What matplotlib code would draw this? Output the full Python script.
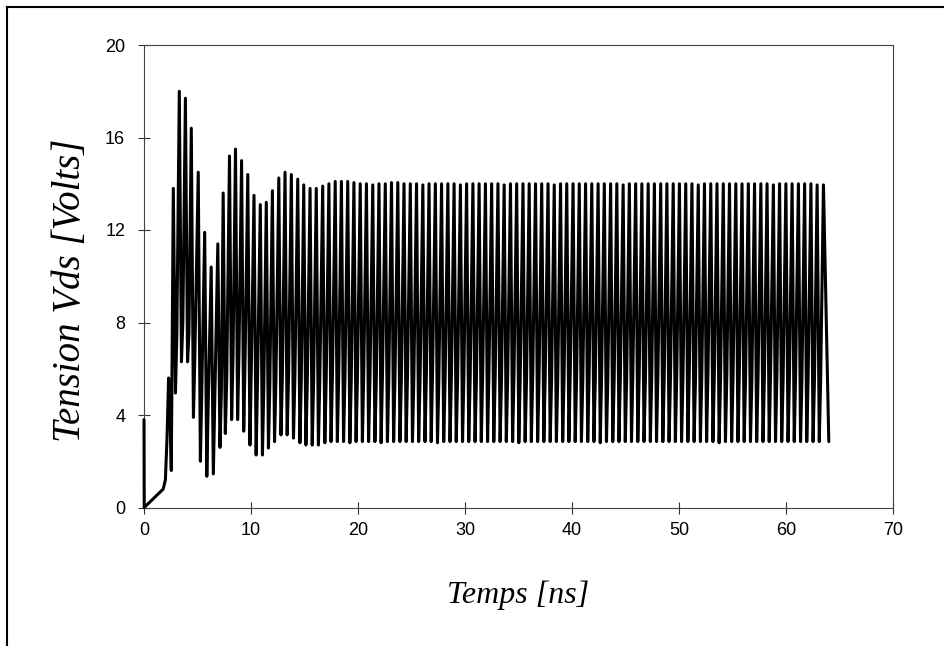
import numpy as np
import matplotlib
matplotlib.use("Agg")
import matplotlib.pyplot as plt
from matplotlib.lines import Line2D

# ---------------- data ----------------
# start-up segment (time in ns, voltage in V)
start_t = [0.00, 0.00, 0.02, 1.80, 2.00, 2.15, 2.30, 2.42, 2.55]
start_v = [3.80, 3.80, 0.00, 0.80, 1.20, 3.00, 5.60, 4.20, 1.60]

# oscillation maxima
peak_t = [2.74, 3.30, 3.87, 4.42, 5.07, 5.67, 6.28, 6.90, 7.40, 7.99,
          8.55, 9.12, 9.70, 10.28, 10.87, 11.43, 12.00, 12.60, 13.18, 13.77,
          14.37, 14.93, 15.52, 16.10, 16.70, 17.28, 17.87, 18.45, 19.04, 19.62,
          20.21, 20.79, 21.38, 21.96, 22.55, 23.13, 23.72, 24.30, 24.89, 25.47,
          26.06, 26.64, 27.23, 27.81, 28.40, 28.98, 29.57, 30.15, 30.74, 31.32,
          31.91, 32.49, 33.08, 33.66, 34.25, 34.83, 35.42, 36.00, 36.59, 37.17,
          37.76, 38.34, 38.93, 39.51, 40.10, 40.68, 41.27, 41.85, 42.44, 43.02,
          43.61, 44.19, 44.78, 45.36, 45.95, 46.53, 47.12, 47.70, 48.29, 48.87,
          49.46, 50.04, 50.63, 51.21, 51.80, 52.38, 52.97, 53.55, 54.14, 54.72,
          55.31, 55.89, 56.48, 57.06, 57.65, 58.23, 58.82, 59.40, 59.99, 60.57,
          61.16, 61.74, 62.33, 62.91, 63.50]
peak_v = [13.8, 18.0, 17.7, 16.4, 14.5, 11.9, 10.4, 11.4, 13.6, 15.2,
          15.5, 15.0, 14.4, 13.5, 13.1, 13.2, 13.7, 14.25, 14.5, 14.4,
          14.2, 13.95, 13.8, 13.8, 13.9, 14.0, 14.1, 14.1, 14.1, 14.05,
          14.0, 14.0, 13.95, 14.0, 14.0, 14.05, 14.05, 14.0, 14.0, 14.0,
          13.95, 14.0, 14.0, 14.0, 14.0, 14.0, 13.95, 14.0, 14.0, 14.0,
          14.0, 14.0, 14.0, 13.95, 14.0, 14.0, 14.0, 14.0, 14.0, 14.0,
          14.0, 13.95, 14.0, 14.0, 14.0, 14.0, 14.0, 14.0, 14.0, 14.0,
          14.0, 14.0, 13.95, 14.0, 14.0, 14.0, 14.0, 14.0, 14.0, 14.0,
          14.0, 14.0, 14.0, 14.0, 13.95, 14.0, 14.0, 14.0, 14.0, 14.0,
          14.0, 14.0, 14.0, 14.0, 14.0, 14.0, 13.95, 14.0, 14.0, 14.0,
          14.0, 14.0, 14.0, 13.95, 13.95]

# oscillation minima (one after each maximum)
trough_t = [2.94, 3.50, 4.07, 4.62, 5.27, 5.87, 6.48, 7.10, 7.60, 8.19,
            8.75, 9.32, 9.90, 10.48, 11.07, 11.63, 12.20, 12.80, 13.38, 13.97,
            14.57, 15.13, 15.72, 16.30, 16.90, 17.48, 18.07, 18.65, 19.24, 19.82,
            20.41, 20.99, 21.58, 22.16, 22.75, 23.33, 23.92, 24.50, 25.09, 25.67,
            26.26, 26.84, 27.43, 28.01, 28.60, 29.18, 29.77, 30.35, 30.94, 31.52,
            32.11, 32.69, 33.28, 33.86, 34.45, 35.03, 35.62, 36.20, 36.79, 37.37,
            37.96, 38.54, 39.13, 39.71, 40.30, 40.88, 41.47, 42.05, 42.64, 43.22,
            43.81, 44.39, 44.98, 45.56, 46.15, 46.73, 47.32, 47.90, 48.49, 49.07,
            49.66, 50.24, 50.83, 51.41, 52.00, 52.58, 53.17, 53.75, 54.34, 54.92,
            55.51, 56.09, 56.68, 57.26, 57.85, 58.43, 59.02, 59.60, 60.19, 60.77,
            61.36, 61.94, 62.53, 63.11, 64.00]
trough_v = [4.95, 6.3, 6.3, 3.9, 2.0, 1.35, 1.45, 2.6, 3.2, 3.8,
            3.8, 3.3, 2.7, 2.27, 2.27, 2.57, 2.85, 3.14, 3.14, 3.0,
            2.8, 2.7, 2.7, 2.7, 2.8, 2.85, 2.85, 2.85, 2.8, 2.85,
            2.85, 2.85, 2.85, 2.8, 2.85, 2.85, 2.85, 2.85, 2.85, 2.85,
            2.85, 2.85, 2.8, 2.85, 2.85, 2.85, 2.85, 2.85, 2.85, 2.85,
            2.85, 2.85, 2.85, 2.85, 2.85, 2.8, 2.85, 2.85, 2.85, 2.85,
            2.85, 2.85, 2.85, 2.85, 2.85, 2.85, 2.85, 2.85, 2.8, 2.85,
            2.85, 2.85, 2.85, 2.85, 2.85, 2.85, 2.85, 2.85, 2.85, 2.85,
            2.85, 2.85, 2.85, 2.85, 2.85, 2.85, 2.85, 2.8, 2.85, 2.85,
            2.85, 2.85, 2.85, 2.85, 2.85, 2.85, 2.85, 2.85, 2.85, 2.85,
            2.85, 2.85, 2.85, 2.85, 2.85]

# small rebound after each minimum (the grey band near 5-6 V)
rebound_t = [3.07, 3.63, 4.20, 4.75, 5.40, 6.00, 6.61, 7.23, 7.73, 8.32,
             8.88, 9.45, 10.03, 10.61, 11.20, 11.76, 12.33, 12.93, 13.51, 14.10,
             14.70, 15.26, 15.85, 16.43, 17.03, 17.61, 18.20, 18.78, 19.37, 19.95,
             20.54, 21.12, 21.71, 22.29, 22.88, 23.46, 24.05, 24.63, 25.22, 25.80,
             26.39, 26.97, 27.56, 28.14, 28.73, 29.31, 29.90, 30.48, 31.07, 31.65,
             32.24, 32.82, 33.41, 33.99, 34.58, 35.16, 35.75, 36.33, 36.92, 37.50,
             38.09, 38.67, 39.26, 39.84, 40.43, 41.01, 41.60, 42.18, 42.77, 43.35,
             43.94, 44.52, 45.11, 45.69, 46.28, 46.86, 47.45, 48.03, 48.62, 49.20,
             49.79, 50.37, 50.96, 51.54, 52.13, 52.71, 53.30, 53.88, 54.47, 55.05,
             55.64, 56.22, 56.81, 57.39, 57.98, 58.56, 59.15, 59.73, 60.32, 60.90,
             61.49, 62.07, 62.66, 63.24]
rebound_v = [7.5, 8.0, 7.5, 6.5, 5.0, 4.5, 4.5, 5.0, 5.5, 6.5,
             6.8, 6.5, 6.0, 5.5, 5.3, 5.3, 5.5, 5.6, 5.7, 5.6,
             5.5, 5.4, 5.4, 5.5, 5.6, 5.7, 5.8, 5.6, 5.5, 5.7,
             5.9, 5.6, 5.5, 5.8, 5.6, 5.7, 5.5, 5.8, 5.6, 5.5,
             5.7, 5.9, 5.6, 5.5, 5.7, 5.6, 5.8, 5.5, 5.6, 5.7,
             5.9, 5.6, 5.5, 5.7, 5.8, 5.6, 5.5, 5.7, 5.6, 5.8,
             5.5, 5.6, 5.7, 5.9, 5.6, 5.5, 5.7, 5.6, 5.8, 5.6,
             5.5, 5.7, 5.6, 5.9, 5.7, 5.5, 5.6, 5.8, 5.6, 5.5,
             5.7, 5.6, 5.8, 5.5, 5.7, 5.9, 5.6, 5.5, 5.7, 5.6,
             5.8, 5.6, 5.5, 5.7, 5.6, 5.9, 5.7, 5.5, 5.6, 5.8,
             5.6, 5.7, 5.5, 5.6]

x_ticks = [0, 10, 20, 30, 40, 50, 60, 70]
y_ticks = [0, 4, 8, 12, 16, 20]
x_label = "Temps [ns]"
y_label = "Tension Vds [Volts]"

# ---------------- assemble the trace ----------------
n_full = len(rebound_t)
cyc_t = np.column_stack([peak_t[:n_full], trough_t[:n_full], rebound_t]).ravel()
cyc_v = np.column_stack([peak_v[:n_full], trough_v[:n_full], rebound_v]).ravel()
t = np.concatenate([start_t, cyc_t, peak_t[n_full:], trough_t[n_full:]])
v = np.concatenate([start_v, cyc_v, peak_v[n_full:], trough_v[n_full:]])

# ---------------- figure ----------------
W, H = 945, 646
fig = plt.figure(figsize=(W / 100, H / 100), dpi=100)
ax = fig.add_axes([144 / W, 1 - 507.5 / H, 749 / W, 462.5 / H])

ax.plot(t, v, color="black", lw=2.2, solid_joinstyle="round",
        solid_capstyle="round", clip_on=False, zorder=3)

ax.set_xlim(0, 70)
ax.set_ylim(0, 20)
ax.set_xticks(x_ticks)
ax.set_yticks(y_ticks)
ax.tick_params(direction="inout", length=9, width=0.8, color="#333333",
               labelsize=13, pad=6)
ax.tick_params(axis="y", pad=9)
for lab in ax.get_xticklabels() + ax.get_yticklabels():
    lab.set_fontfamily("Liberation Sans")
for sp in ax.spines.values():
    sp.set_color("#444444")
    sp.set_linewidth(0.8)

fig.text(71 / W, 1 - 290 / H, y_label, rotation=90, ha="center", va="center",
         fontsize=28, style="italic", family="Liberation Serif")
fig.text(518 / W, 1 - 595 / H, x_label, ha="center", va="center",
         fontsize=23, style="italic", family="Liberation Serif")

# outer frame (left and top edges visible)
fig.add_artist(Line2D([7 / W, 7 / W], [0, 1 - 7 / H], transform=fig.transFigure,
                      color="black", lw=1.5))
fig.add_artist(Line2D([7 / W, 1], [1 - 7 / H, 1 - 7 / H], transform=fig.transFigure,
                      color="black", lw=1.5))

fig.savefig("out.png", dpi=100)
